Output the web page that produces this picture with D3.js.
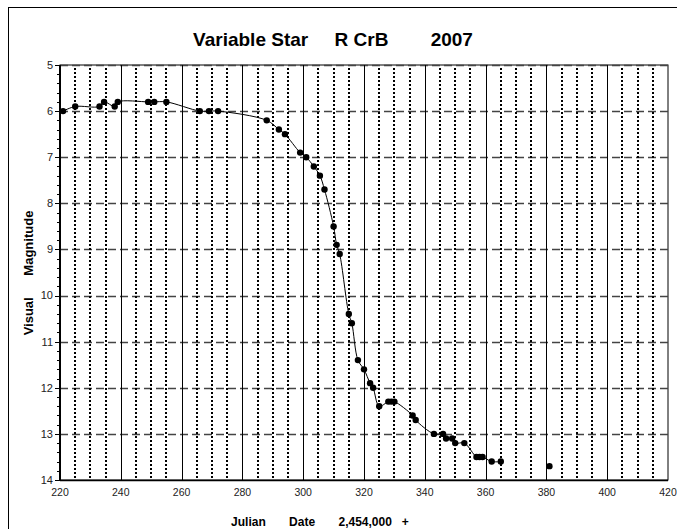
<!DOCTYPE html>
<html>
<head>
<meta charset="utf-8">
<script src="https://cdn.jsdelivr.net/npm/d3@7"></script>
<style>
  body { margin: 0; background: #fff; }
  svg text { font-family: "Liberation Sans", Arial, sans-serif; white-space: pre; }
</style>
</head>
<body>
<div id="chart"></div>
<script>
// observations joined by the line (JD - 2,454,000 / visual magnitude)
const jd  = [221, 225, 233, 234.5, 238, 239, 249, 251, 255, 266, 269, 272, 288, 292, 294,
             299, 301, 303.5, 305.5, 307, 310, 311, 312, 315, 316, 318, 320, 322, 323, 325,
             328, 329, 330, 336, 337, 343, 346, 347, 349, 350, 353, 357, 358, 359, 362, 365];
const mag = [6.0, 5.9, 5.9, 5.8, 5.9, 5.8, 5.8, 5.8, 5.8, 6.0, 6.0, 6.0, 6.2, 6.4, 6.5,
             6.9, 7.0, 7.2, 7.4, 7.7, 8.5, 8.9, 9.1, 10.4, 10.6, 11.4, 11.6, 11.9, 12.0, 12.4,
             12.3, 12.3, 12.3, 12.6, 12.7, 13.0, 13.0, 13.1, 13.1, 13.2, 13.2, 13.5, 13.5, 13.5, 13.6, 13.6];
// later observation shown without a line
const jdLate  = [381];
const magLate = [13.7];

const xTicks = [220, 240, 260, 280, 300, 320, 340, 360, 380, 400, 420];
const xMinorTicks = [225, 230, 235, 245, 250, 255, 265, 270, 275, 285, 290, 295, 305, 310, 315,
                     325, 330, 335, 345, 350, 355, 365, 370, 375, 385, 390, 395, 405, 410, 415];
const yTicks = [5, 6, 7, 8, 9, 10, 11, 12, 13, 14];

const width = 677, height = 529;
const pLeft = 60, pRight = 668, pTop = 65, pBottom = 480;

const svg = d3.select("#chart").append("svg")
  .attr("width", width)
  .attr("height", height);

// outer frame (runs off the right and bottom)
svg.append("rect")
  .attr("x", 8.5).attr("y", 7.5)
  .attr("width", 700).attr("height", 600)
  .attr("fill", "#fff").attr("stroke", "#000").attr("stroke-width", 1);

const x = d3.scaleLinear().domain([220, 420]).range([pLeft, pRight]);
const y = d3.scaleLinear().domain([5, 14]).range([pTop, pBottom]);

// plot border
svg.append("rect")
  .attr("x", pLeft).attr("y", pTop)
  .attr("width", pRight - pLeft).attr("height", pBottom - pTop)
  .attr("fill", "none").attr("stroke", "#000").attr("stroke-width", 1);

// horizontal dashed grid
svg.append("g").selectAll("line")
  .data(yTicks.filter(d => d < 14))
  .join("line")
  .attr("x1", pLeft).attr("x2", pRight)
  .attr("y1", d => Math.round(y(d)) + 0.5).attr("y2", d => Math.round(y(d)) + 0.5)
  .attr("stroke", "#444").attr("stroke-width", 1.6)
  .attr("stroke-dasharray", "8,4");

// vertical solid grid
svg.append("g").selectAll("line")
  .data(xTicks.slice(1, -1))
  .join("line")
  .attr("x1", d => Math.round(x(d)) + 0.5).attr("x2", d => Math.round(x(d)) + 0.5)
  .attr("y1", pTop).attr("y2", pBottom)
  .attr("stroke", "#000").attr("stroke-width", 1);

// vertical dotted grid
svg.append("g").selectAll("line")
  .data(xMinorTicks)
  .join("line")
  .attr("x1", d => Math.round(x(d))).attr("x2", d => Math.round(x(d)))
  .attr("y1", pTop + 3).attr("y2", pBottom)
  .attr("stroke", "#000").attr("stroke-width", 2)
  .attr("stroke-dasharray", "2,2");

// y axis
const yAxis = svg.append("g").attr("transform", `translate(${pLeft},0)`);
yAxis.append("line")
  .attr("x1", 0).attr("x2", 0).attr("y1", pTop).attr("y2", pBottom)
  .attr("stroke", "#000").attr("stroke-width", 2);
yAxis.selectAll(".minor")
  .data(d3.range(50, 141, 2).map(d => d / 10))
  .join("line")
  .attr("class", "minor")
  .attr("x1", -3).attr("x2", 0)
  .attr("y1", d => Math.round(y(d)) + 0.5).attr("y2", d => Math.round(y(d)) + 0.5)
  .attr("stroke", "#000").attr("stroke-width", 1);
yAxis.selectAll(".major")
  .data(yTicks)
  .join("line")
  .attr("class", "major")
  .attr("x1", -5).attr("x2", 0)
  .attr("y1", d => Math.round(y(d)) + 0.5).attr("y2", d => Math.round(y(d)) + 0.5)
  .attr("stroke", "#000").attr("stroke-width", 1);
yAxis.selectAll("text")
  .data(yTicks)
  .join("text")
  .attr("x", -7).attr("y", d => y(d))
  .attr("dy", "0.35em")
  .attr("text-anchor", "end")
  .attr("font-size", "11px").attr("fill", "#222")
  .text(d => d);

// x axis
svg.append("line")
  .attr("x1", pLeft).attr("x2", pRight).attr("y1", pBottom + 0.5).attr("y2", pBottom + 0.5)
  .attr("stroke", "#000").attr("stroke-width", 1.5);
svg.append("g").selectAll("text")
  .data(xTicks)
  .join("text")
  .attr("x", d => x(d)).attr("y", pBottom + 16)
  .attr("text-anchor", "middle")
  .attr("font-size", "10.5px").attr("fill", "#222")
  .text(d => d);

// data line
const pts = jd.map((d, i) => [d, mag[i]]);
const line = d3.line()
  .x(d => x(d[0])).y(d => y(d[1]))
  .curve(d3.curveCatmullRom.alpha(0.5));
svg.append("path")
  .datum(pts)
  .attr("d", line)
  .attr("fill", "none").attr("stroke", "#000").attr("stroke-width", 1);

svg.append("g").selectAll("circle")
  .data(pts.concat(jdLate.map((d, i) => [d, magLate[i]])))
  .join("circle")
  .attr("cx", d => x(d[0])).attr("cy", d => y(d[1]))
  .attr("r", 3.2).attr("fill", "#000");

// titles
svg.append("text")
  .attr("x", 333).attr("y", 46)
  .attr("text-anchor", "middle")
  .attr("font-size", "19px").attr("font-weight", "bold")
  .text("Variable Star     R CrB        2007");

svg.append("text")
  .attr("x", 320).attr("y", 526)
  .attr("text-anchor", "middle")
  .attr("font-size", "12px").attr("font-weight", "bold")
  .text("Julian       Date       2,454,000   +");

svg.append("text")
  .attr("transform", `translate(33,273) rotate(-90)`)
  .attr("text-anchor", "middle")
  .attr("font-size", "13px").attr("font-weight", "bold")
  .text("Visual      Magnitude");
</script>
</body>
</html>
